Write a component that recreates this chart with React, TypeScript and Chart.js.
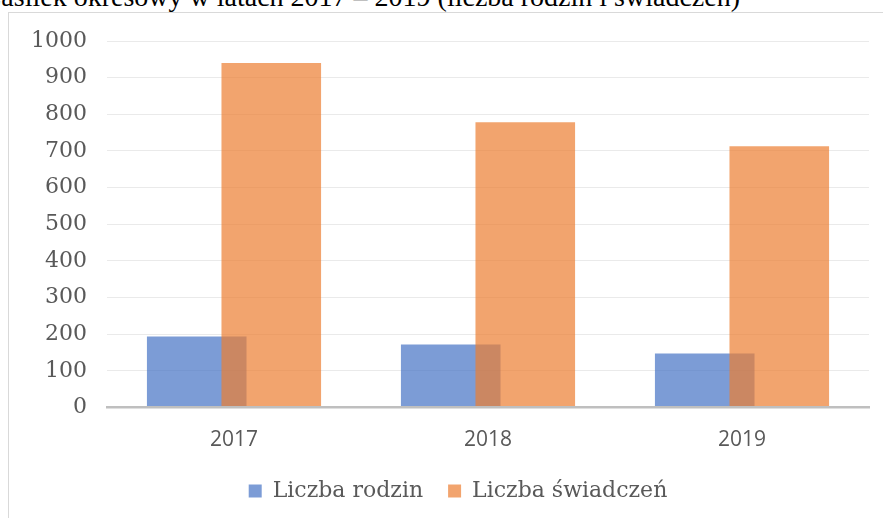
import React, { useEffect, useRef } from "react";
import { Chart, registerables } from "chart.js";

Chart.register(...registerables);

const categories = ["2017", "2018", "2019"];
const familyCounts = [194, 172, 147];
const benefitCounts = [940, 778, 713];
const seriesLabels = ["Liczba rodzin", "Liczba świadczeń"];
const yMin = 0;
const yMax = 1000;
const yStep = 100;
const titleText = "Zasiłek okresowy w latach 2017 – 2019 (liczba rodzin i świadczeń)";

// Draw datasets in array order so the orange series lies on top of the blue one,
// and let the y-axis labels use the full left margin.
const drawOrderPlugin = {
  id: "drawOrder",
  afterLayout(chart: any) {
    if (chart.scales.y) chart.scales.y.left = 0;
  },
  beforeDatasetsDraw(chart: any) {
    const ctx = chart.ctx;
    const area = chart.chartArea;
    ctx.save();
    ctx.beginPath();
    ctx.rect(area.left, area.top - 2, area.right - area.left, area.bottom - area.top + 4);
    ctx.clip();
    for (let i = 0; i < chart.data.datasets.length; i++) {
      const meta = chart.getDatasetMeta(i);
      if (chart.isDatasetVisible(i)) meta.controller.draw();
    }
    ctx.restore();
    return false;
  },
};

export default function App() {
  const canvasRef = useRef<HTMLCanvasElement | null>(null);

  useEffect(() => {
    if (!canvasRef.current) return;
    const chart = new Chart(canvasRef.current, {
      type: "bar",
      data: {
        labels: categories,
        datasets: [
          {
            label: seriesLabels[0],
            data: familyCounts,
            backgroundColor: "rgba(68,114,196,0.7)",
            borderWidth: 0,
            categoryPercentage: 0.587,
            barPercentage: 1.336,
          },
          {
            label: seriesLabels[1],
            data: benefitCounts,
            backgroundColor: "rgba(237,125,49,0.7)",
            borderWidth: 0,
            categoryPercentage: 0.587,
            barPercentage: 1.336,
          },
        ],
      },
      plugins: [drawOrderPlugin],
      options: {
        responsive: false,
        animation: false,
        layout: { padding: { left: 47, right: 14, top: 41, bottom: 28 } },
        plugins: {
          title: { display: false },
          tooltip: { enabled: false },
          legend: {
            position: "bottom",
            labels: {
              boxWidth: 13,
              boxHeight: 13,
              padding: 25,
              color: "#595959",
              font: { family: "DejaVu Serif", size: 22 },
            },
          },
        },
        scales: {
          x: {
            grid: { display: false, drawTicks: false },
            border: { display: true, color: "#bfbfbf", width: 2.5, z: 1 },
            ticks: {
              padding: 20,
              color: "#595959",
              font: { family: "Open Sans", size: 21 },
            },
            afterFit: (axis: any) => {
              axis.height = 47.5;
            },
          },
          y: {
            min: yMin,
            max: yMax,
            border: { display: false },
            grid: { color: "#eaeaea", lineWidth: 1, drawTicks: false },
            ticks: {
              stepSize: yStep,
              padding: 20,
              color: "#595959",
              font: { family: "DejaVu Serif", size: 22 },
              callback: (value: any) => String(value),
            },
            afterFit: (axis: any) => {
              axis.width = 60;
            },
          },
        },
      },
    });
    return () => chart.destroy();
  }, []);

  return (
    <div
      style={{
        position: "absolute",
        left: 0,
        top: 0,
        width: 883,
        height: 518,
        overflow: "hidden",
        background: "#ffffff",
      }}
    >
      <div
        style={{
          position: "absolute",
          right: 143,
          top: -17,
          whiteSpace: "nowrap",
          fontFamily: "'Liberation Serif', serif",
          fontSize: 28,
          lineHeight: "28px",
          color: "#000000",
        }}
      >
        {titleText}
      </div>
      <div
        style={{
          position: "absolute",
          left: 8,
          top: 12,
          width: 900,
          height: 600,
          border: "1px solid #d9d9d9",
          boxSizing: "border-box",
        }}
      />
      <canvas
        ref={canvasRef}
        width={883}
        height={540}
        style={{ position: "absolute", left: 0, top: 0, width: 883, height: 540 }}
      />
    </div>
  );
}
